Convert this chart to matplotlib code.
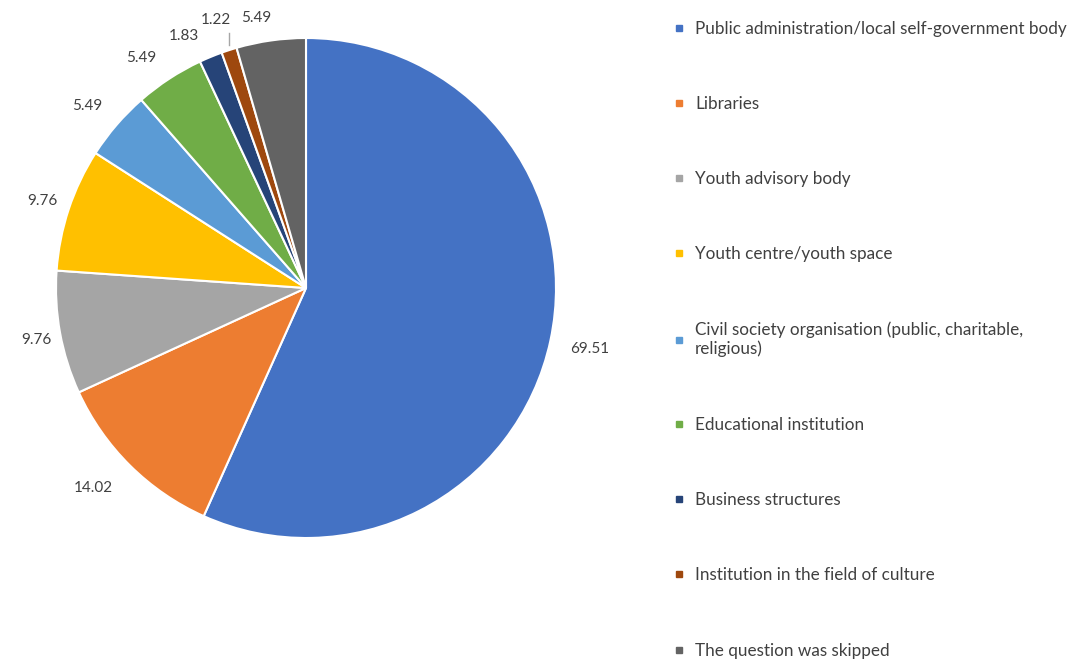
import matplotlib
matplotlib.use("Agg")
import matplotlib.pyplot as plt
import numpy as np
from matplotlib.lines import Line2D

categories = [
    "Public administration/local self-government body",
    "Libraries",
    "Youth advisory body",
    "Youth centre/youth space",
    "Civil society organisation (public, charitable,\nreligious)",
    "Educational institution",
    "Business structures",
    "Institution in the field of culture",
    "The question was skipped",
]
values = [69.51, 14.02, 9.76, 9.76, 5.49, 5.49, 1.83, 1.22, 5.49]
colors = ["#4472C4", "#ED7D31", "#A5A5A5", "#FFC000", "#5B9BD5",
          "#70AD47", "#264478", "#9E480E", "#636363"]

# label placement around the pie: (radius, angle nudge in degrees)
label_pos = [(1.16, 0), (1.17, -2), (1.10, 0.5), (1.11, 0), (1.14, 1),
             (1.13, 2.5), (1.12, 3.5), (1.13, 0.6), (1.10, 2.4)]

plt.rcParams["font.family"] = ["Lato", "DejaVu Sans"]
text_color = "#404040"

fig = plt.figure(figsize=(10.74, 6.63), dpi=100)
ax = fig.add_axes([0, 0, 1, 1])

wedges, _ = ax.pie(values, colors=colors, startangle=90, counterclock=False,
                   radius=1.0, wedgeprops=dict(edgecolor="white", linewidth=1.5))

for w, v, (r, nudge) in zip(wedges, values, label_pos):
    mid = np.deg2rad((w.theta1 + w.theta2) / 2 + nudge)
    x, y = r * np.cos(mid), r * np.sin(mid)
    ax.text(x, y, f"{v:.2f}", ha="center", va="center",
            fontsize=11, color=text_color)

# leader line for the thin culture slice
w = wedges[7]
mid = np.deg2rad((w.theta1 + w.theta2) / 2)
ex, ey = np.cos(mid), np.sin(mid)
ax.plot([ex, ex], [ey + 0.02, ey + 0.07], color="#A6A6A6", lw=1)

ax.set_xlim(-1.224, 3.072)
ax.set_ylim(-1.5, 1.152)
ax.set_aspect("auto")
ax.axis("off")

handles = [Line2D([0], [0], marker="s", linestyle="none", markersize=5,
                  markerfacecolor=c, markeredgecolor=c) for c in colors]
fig.legend(handles, categories, loc="upper left",
           bbox_to_anchor=(665 / 1074, 1 - 12 / 663), frameon=False,
           fontsize=12.3, labelcolor=text_color, labelspacing=3.47,
           handlelength=0.6, handletextpad=0.65, borderpad=0)

fig.savefig("out.png", dpi=100)
